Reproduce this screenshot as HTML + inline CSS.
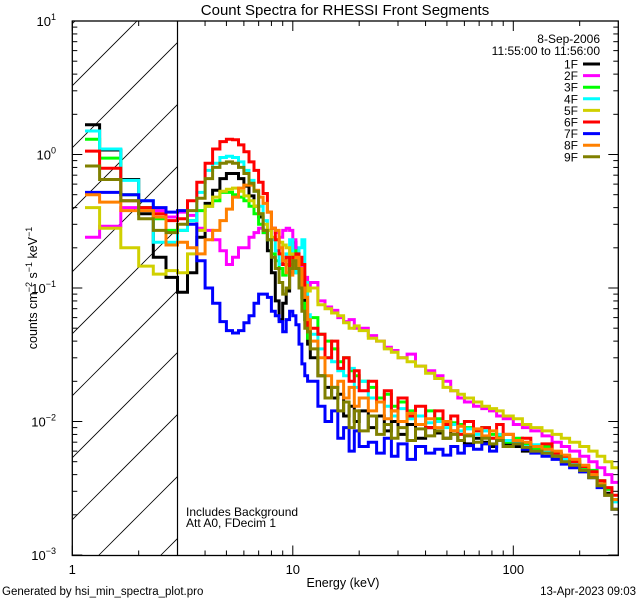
<!DOCTYPE html>
<html><head><meta charset="utf-8"><style>
html,body{margin:0;padding:0;background:#fff;}
svg{display:block;font-family:"Liberation Sans",sans-serif;}
</style></head><body>
<svg id="chart" width="640" height="600" viewBox="0 0 640 600" xmlns="http://www.w3.org/2000/svg">
<rect x="0" y="0" width="640" height="600" fill="#fff"/>
<defs><clipPath id="plotClip"><rect x="72.3" y="21" width="546" height="534.5"/></clipPath>
<clipPath id="hatchClip"><rect x="72.3" y="21" width="105.2" height="534.5"/></clipPath></defs>
<g id="hatch" clip-path="url(#hatchClip)"></g>
<g id="series" clip-path="url(#plotClip)"></g>
<g id="axes"></g>
<text x="345" y="15" font-size="15" text-anchor="middle">Count Spectra for RHESSI Front Segments</text>
<text x="343" y="587" font-size="12.5" text-anchor="middle">Energy (keV)</text>
<text transform="translate(37,288) rotate(-90)" font-size="12.5" text-anchor="middle">counts cm<tspan dy="-5" font-size="9">−2</tspan><tspan dy="5"> s</tspan><tspan dy="-5" font-size="9">−1</tspan><tspan dy="5"> keV</tspan><tspan dy="-5" font-size="9">−1</tspan></text>
<text x="2" y="595" font-size="11.5">Generated by hsi_min_spectra_plot.pro</text>
<text x="636" y="595" font-size="11.5" text-anchor="end">13-Apr-2023 09:03</text>
<text x="186" y="516" font-size="12">Includes Background</text>
<text x="186" y="527" font-size="12">Att A0, FDecim 1</text>
<text x="600" y="43" font-size="12" text-anchor="end">8-Sep-2006</text>
<text x="600" y="55" font-size="12" text-anchor="end">11:55:00 to 11:56:00</text>
<g id="legend"></g>
</svg>
<script>
const edges=[1.16,1.33,1.66,2.0,2.33,2.66,3.0,3.33,3.67,4.0,4.33,4.67,5.0,5.33,5.67,6.0,6.33,6.67,7.0,7.33,7.67,8.0,8.33,8.67,9.0,9.33,9.67,10.0,10.33,10.67,11.0,11.33,11.67,12.0,13,14,15,16,17,18,19,20,22,24,26,28,30,33,36,40,44,48,52,56,60,66,72,78,84,90,100,110,120,135,150,165,180,200,220,240,260,280,295];
const seriesNames=["1F","2F","3F","4F","5F","6F","7F","8F","9F"];
const seriesColors=["#000000","#ff00ff","#00ff00","#00ffff","#d0d000","#ff0000","#0000ff","#ff8000","#808000"];
const xTickMajor=[1,10,100];
const xTickLabels=["1","10","100"];
const yTickMajor=[-3,-2,-1,0,1];

const f1Low=[1.67,1.08,0.65,0.36,0.17,0.12];
const f1Mid=[0.093,0.13,0.24,0.43,0.54,0.66,0.72,0.72,0.66,0.58,0.49,0.41,0.34,0.27,0.19,0.13,0.08,0.058,0.077,0.095,0.15,0.22,0.19,0.13,0.085,0.058,0.038];
const f1High=[0.03,0.022,0.018,0.015,0.016,0.011,0.013,0.01,0.012,0.009,0.011,0.0085,0.01,0.008,0.0095,0.0075,0.009,0.0082,0.0075,0.0085,0.0072,0.0068,0.0075,0.007,0.0065,0.0072,0.0068,0.0065,0.006,0.0062,0.0058,0.0055,0.005,0.0048,0.0042,0.0038,0.0034,0.0029,0.0026];
const f2Low=[0.24,0.29,0.40,0.40,0.38,0.34];
const f2Mid=[0.37,0.35,0.28,0.27,0.23,0.19,0.15,0.17,0.20,0.20,0.24,0.26,0.28,0.26,0.27,0.28,0.26,0.24,0.27,0.28,0.27,0.23,0.19,0.15,0.13,0.12,0.105];
const f2High=[0.11,0.08,0.072,0.068,0.06,0.056,0.058,0.05,0.05,0.044,0.04,0.036,0.034,0.03,0.032,0.026,0.024,0.022,0.02,0.017,0.015,0.014,0.013,0.0125,0.012,0.011,0.0105,0.0095,0.009,0.0085,0.0078,0.007,0.0065,0.006,0.0055,0.005,0.0045,0.004,0.0035];
const f3Low=[1.3,0.94,0.5,0.4,0.33,0.27];
const f3Mid=[0.27,0.32,0.38,0.41,0.45,0.52,0.52,0.50,0.48,0.45,0.41,0.36,0.30,0.26,0.23,0.18,0.16,0.14,0.125,0.15,0.17,0.19,0.13,0.10,0.077,0.058,0.042];
const f3High=[0.06,0.045,0.04,0.035,0.028,0.03,0.024,0.022,0.02,0.018,0.015,0.016,0.013,0.014,0.012,0.011,0.012,0.0105,0.01,0.0098,0.0095,0.009,0.0085,0.009,0.008,0.0078,0.007,0.0075,0.0068,0.0062,0.0065,0.0058,0.0055,0.0052,0.0044,0.0043,0.0036,0.0031,0.0026];
const f4Low=[1.5,1.1,0.64,0.45,0.22,0.22];
const f4Mid=[0.27,0.32,0.52,0.76,0.86,0.95,0.97,0.95,0.88,0.76,0.64,0.53,0.41,0.32,0.27,0.23,0.19,0.15,0.16,0.18,0.23,0.13,0.16,0.20,0.23,0.11,0.063];
const f4High=[0.045,0.035,0.03,0.028,0.024,0.022,0.025,0.018,0.02,0.015,0.014,0.013,0.011,0.0125,0.0105,0.011,0.0098,0.01,0.009,0.0095,0.0085,0.0088,0.008,0.0085,0.0075,0.008,0.0072,0.007,0.0065,0.0067,0.006,0.0058,0.0052,0.0048,0.0043,0.004,0.0033,0.0028,0.0025];
const f5Low=[0.40,0.28,0.20,0.146,0.127,0.135];
const f5Mid=[0.13,0.18,0.27,0.41,0.48,0.53,0.55,0.56,0.53,0.49,0.45,0.41,0.36,0.30,0.27,0.24,0.23,0.22,0.21,0.20,0.18,0.17,0.15,0.13,0.12,0.105,0.095];
const f5High=[0.1,0.075,0.07,0.065,0.062,0.055,0.05,0.052,0.048,0.042,0.04,0.035,0.033,0.03,0.028,0.026,0.023,0.021,0.018,0.017,0.016,0.015,0.014,0.013,0.0125,0.012,0.011,0.0105,0.0095,0.009,0.0085,0.008,0.0075,0.007,0.0065,0.006,0.0055,0.005,0.0045];
const f6Low=[1.06,0.79,0.45,0.40,0.36,0.32];
const f6Mid=[0.33,0.45,0.62,0.86,1.1,1.25,1.3,1.29,1.18,1.05,0.88,0.76,0.62,0.51,0.37,0.28,0.23,0.18,0.15,0.17,0.13,0.17,0.18,0.17,0.15,0.085,0.047];
const f6High=[0.05,0.045,0.03,0.04,0.025,0.03,0.02,0.024,0.017,0.02,0.014,0.017,0.012,0.015,0.011,0.013,0.009,0.012,0.0095,0.011,0.008,0.01,0.0085,0.009,0.0075,0.0095,0.008,0.0072,0.0075,0.0065,0.0068,0.0058,0.0055,0.005,0.0046,0.0042,0.0036,0.0032,0.0028];
const f7Low=[0.52,0.52,0.5,0.45,0.40,0.37];
const f7Mid=[0.38,0.30,0.16,0.10,0.077,0.056,0.048,0.046,0.048,0.055,0.062,0.077,0.09,0.09,0.085,0.067,0.062,0.056,0.047,0.058,0.067,0.062,0.053,0.038,0.027,0.022,0.02];
const f7High=[0.02,0.013,0.01,0.012,0.0075,0.009,0.006,0.0085,0.0065,0.007,0.0058,0.0075,0.0055,0.0068,0.0052,0.0065,0.0058,0.0062,0.0056,0.0065,0.0058,0.0066,0.0062,0.0068,0.006,0.0072,0.0065,0.0068,0.0062,0.0058,0.0055,0.0052,0.0048,0.0045,0.0042,0.0038,0.0032,0.0028,0.0022];
const f8Low=[0.50,0.44,0.38,0.38,0.34,0.21];
const f8Mid=[0.22,0.20,0.18,0.23,0.27,0.32,0.39,0.48,0.56,0.59,0.59,0.54,0.48,0.43,0.37,0.28,0.27,0.20,0.16,0.13,0.125,0.16,0.17,0.14,0.10,0.085,0.058];
const f8High=[0.04,0.03,0.022,0.018,0.02,0.015,0.018,0.013,0.015,0.012,0.014,0.0105,0.012,0.01,0.0115,0.0095,0.0105,0.009,0.01,0.0085,0.0092,0.008,0.0088,0.0078,0.0085,0.0075,0.008,0.0072,0.007,0.0065,0.0062,0.006,0.0056,0.0052,0.0047,0.004,0.0034,0.0028,0.0026];
const f9Low=[0.82,0.65,0.45,0.33,0.27,0.26];
const f9Mid=[0.30,0.38,0.47,0.66,0.80,0.86,0.88,0.86,0.80,0.72,0.61,0.53,0.36,0.27,0.23,0.17,0.14,0.11,0.09,0.10,0.14,0.16,0.14,0.10,0.067,0.05,0.047];
const f9High=[0.035,0.022,0.015,0.018,0.012,0.014,0.009,0.012,0.0085,0.011,0.008,0.0095,0.0075,0.009,0.0072,0.0088,0.0078,0.0085,0.0075,0.008,0.0072,0.0078,0.007,0.0075,0.0068,0.0072,0.0065,0.0068,0.0064,0.006,0.0058,0.0055,0.005,0.0047,0.0043,0.0038,0.0033,0.0028,0.0022];

const allSeries=[
 f1Low.concat(f1Mid,f1High), f2Low.concat(f2Mid,f2High), f3Low.concat(f3Mid,f3High),
 f4Low.concat(f4Mid,f4High), f5Low.concat(f5Mid,f5High), f6Low.concat(f6Mid,f6High),
 f7Low.concat(f7Mid,f7High), f8Low.concat(f8Mid,f8High), f9Low.concat(f9Mid,f9High)];

const NS="http://www.w3.org/2000/svg";
const X0=72.3, XDEC=220.5, Y0=154.5, YDEC=133.5, LEFT=72.3, RIGHT=618.3, TOP=21, BOTTOM=555.5;
function xs(e){return X0+XDEC*Math.log10(e);}
function ys(v){return Y0-YDEC*Math.log10(v);}
function mk(tag,attrs,parent){const el=document.createElementNS(NS,tag);for(const k in attrs)el.setAttribute(k,attrs[k]);parent.appendChild(el);return el;}

// hatch: lines x+y=c, c = 158 + 62k
const hatch=document.getElementById('hatch');
for(let k=-2;k<12;k++){
  const c=158+62*k;
  const ln=mk('line',{x1:c-BOTTOM,y1:BOTTOM,x2:c-TOP+0,y2:TOP,stroke:'#000','stroke-width':0.8},hatch);
  
  
}

// series
const sg=document.getElementById('series');
allSeries.forEach((vals,si)=>{
  let d='';
  for(let i=0;i<vals.length;i++){
    const xa=xs(edges[i]).toFixed(1), xb=xs(edges[i+1]).toFixed(1), y=ys(vals[i]).toFixed(1);
    d+=(i===0?'M':'L')+xa+','+y+'L'+xb+','+y;
  }
  const p=mk('path',{d:d,fill:'none',stroke:seriesColors[si],'stroke-width':3,'stroke-linejoin':'miter','stroke-linecap':'square'},sg);
  
  
});

// axes
const ax=document.getElementById('axes');
const frame=mk('rect',{x:LEFT,y:TOP,width:RIGHT-LEFT,height:BOTTOM-TOP,fill:'none',stroke:'#000','stroke-width':1.3},ax);


const vline=mk('line',{x1:xs(3),y1:TOP,x2:xs(3),y2:BOTTOM,stroke:'#000','stroke-width':1.2},ax);


xTickMajor.forEach((m,mi)=>{
  for(let j=1;j<10;j++){
    const e=m*j; if(e>299)break;
    const x=xs(e), len=(j===1)?10:5;
    const t1=mk('line',{x1:x,y1:BOTTOM,x2:x,y2:BOTTOM-len,stroke:'#000','stroke-width':1},ax);
    
    
    const t2=mk('line',{x1:x,y1:TOP,x2:x,y2:TOP+len,stroke:'#000','stroke-width':1},ax);
    
    
  }
  const lb=mk('text',{x:xs(m),y:574,'font-size':13,'text-anchor':'middle'},ax);
  lb.textContent=xTickLabels[mi];
  
  
});
yTickMajor.forEach(p=>{
  for(let j=1;j<10;j++){
    const v=Math.pow(10,p)*j; const y=ys(v);
    if(y<TOP-0.5)break;
    const len=(j===1)?10:5;
    const t1=mk('line',{x1:LEFT,y1:y,x2:LEFT+len,y2:y,stroke:'#000','stroke-width':1},ax);
    
    
    const t2=mk('line',{x1:RIGHT,y1:y,x2:RIGHT-len,y2:y,stroke:'#000','stroke-width':1},ax);
    
    
  }
  const lb=mk('text',{x:56,y:ys(Math.pow(10,p))+5,'font-size':13,'text-anchor':'end'},ax);
  
  
  lb.textContent='10';
  const sup=mk('tspan',{dy:-6,'font-size':9},lb);
  sup.textContent=(p<0?'−':'')+Math.abs(p);
});

// legend
const lg=document.getElementById('legend');
seriesNames.forEach((n,i)=>{
  const y=64+11.6*i;
  const t=mk('text',{x:578,y:y+4.5,'font-size':12,'text-anchor':'end'},lg);
  t.textContent=n;
  
  
  const l=mk('line',{x1:583,y1:y,x2:600,y2:y,stroke:seriesColors[i],'stroke-width':3},lg);
  
  
});
</script>
</body></html>
